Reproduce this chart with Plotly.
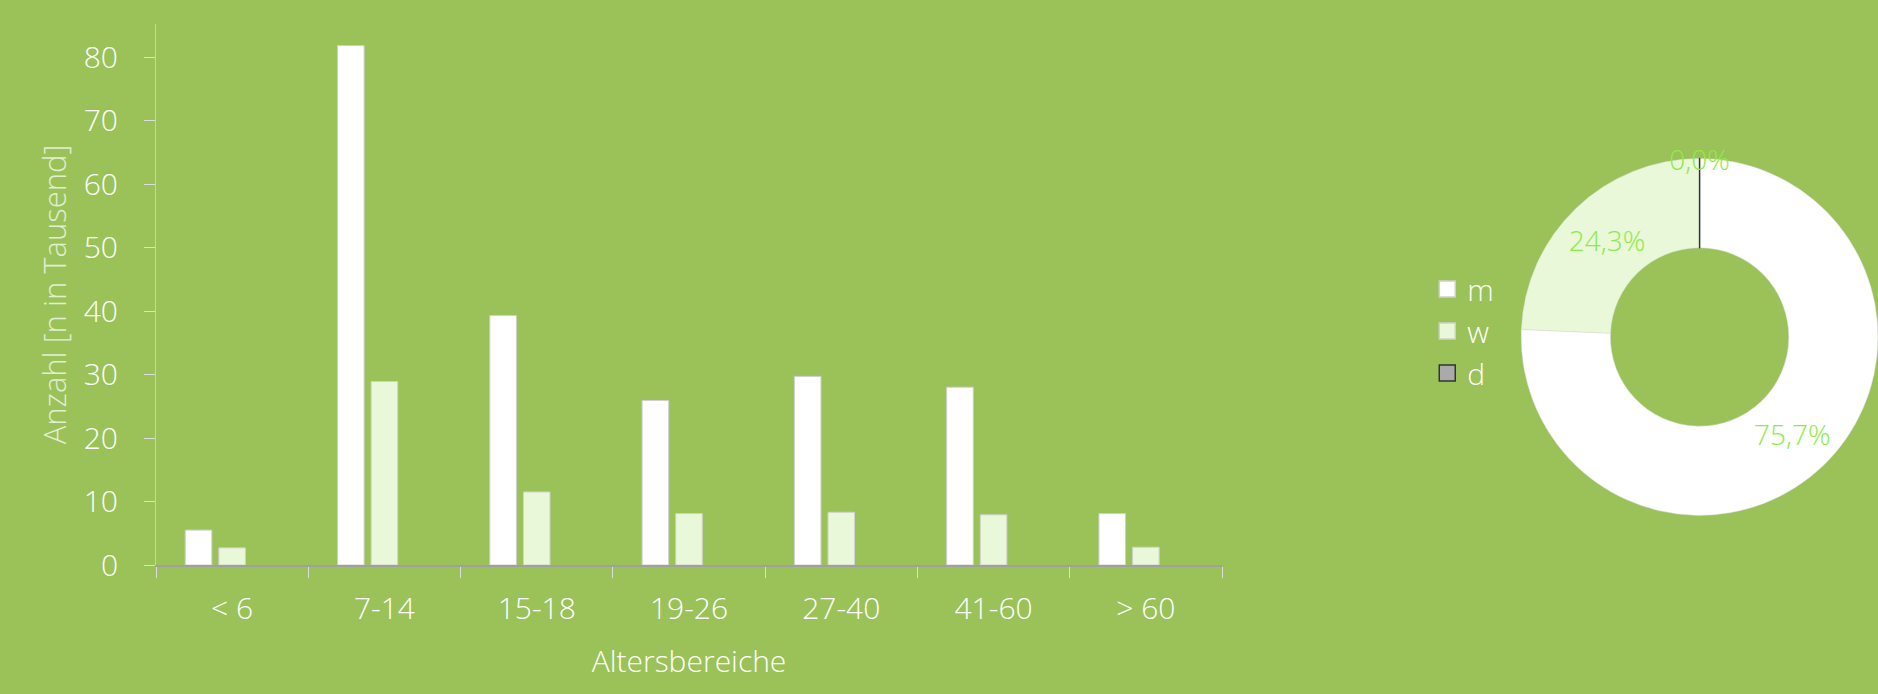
import plotly.graph_objects as go

# ---- data ----
categories = ["< 6", "7-14", "15-18", "19-26", "27-40", "41-60", "> 60"]
m_values = [5.5, 81.8, 39.3, 25.9, 29.7, 28.0, 8.1]
w_values = [2.7, 28.9, 11.5, 8.1, 8.3, 7.9, 2.8]
d_values = [0, 0, 0, 0, 0, 0, 0]
series_names = ["m", "w", "d"]
pie_values = [sum(m_values), sum(w_values), sum(d_values)]

# ---- styles ----
BG = "#9AC259"
COL_M = "#FFFFFF"
COL_W = "#E8F8D8"
COL_D = "#AAAAAA"
PCT = "#8FEA45"
FONT = "Open Sans"
series_colors = [COL_M, COL_W, COL_D]
legend_lines = ["#cfcfcf", "#cfcfcf", "#333333"]

fig = go.Figure()

for name, vals, col in zip(series_names, [m_values, w_values, d_values], series_colors):
    fig.add_trace(go.Bar(
        x=categories, y=vals, name=name, showlegend=False,
        marker=dict(color=col, line=dict(color="#d0d0d0", width=1 if name != "d" else 0)),
    ))

fig.add_trace(go.Pie(
    labels=series_names, values=pie_values,
    hole=0.5, sort=False, direction="clockwise", rotation=0,
    domain=dict(x=[0.81, 1.0], y=[0.085, 0.758]),
    marker=dict(colors=series_colors,
                line=dict(color=["#dddddd", "#dddddd", "#333333"], width=[0.5, 0.5, 1.5])),
    texttemplate="%{percent:.1%}", textposition="inside",
    insidetextorientation="horizontal",
    textfont=dict(color=PCT, size=28, family=FONT, weight=300),
    showlegend=False,
))

# legend entries (square swatches)
for name, col, lc in zip(series_names, series_colors, legend_lines):
    fig.add_trace(go.Scatter(
        x=[None], y=[None], mode="markers", name=name, showlegend=True,
        marker=dict(symbol="square", size=20, color=col, line=dict(color=lc, width=1.5)),
        hoverinfo="skip",
    ))

fig.update_layout(
    width=1878, height=694, autosize=False,
    paper_bgcolor=BG, plot_bgcolor=BG,
    margin=dict(l=0, r=0, t=24, b=129),
    separators=",.",
    font=dict(family=FONT, size=30, color="white", weight=300),
    barmode="group", bargap=0.338, bargroupgap=0.21,
    uniformtext=dict(minsize=28, mode="show"),
    legend=dict(x=0.760, xanchor="left", y=0.4325, yanchor="middle",
                font=dict(size=30, color="white", family=FONT, weight=300),
                bgcolor="rgba(0,0,0,0)", tracegroupgap=0, itemsizing="trace"),
    xaxis=dict(
        domain=[156 / 1878, 1222 / 1878],
        tickson="boundaries", ticks="outside", ticklen=11, tickcolor="#dddddd", tickwidth=1,
        showline=True, linecolor="#a0a0a0", linewidth=2, showgrid=False,
        tickfont=dict(size=30, color="white"), ticklabelstandoff=16,
        title=dict(text="Altersbereiche", font=dict(size=30, color="white"), standoff=24),
    ),
    yaxis=dict(
        range=[0, 85.2], dtick=10, ticks="outside", ticklen=11, tickcolor="#dddddd", tickwidth=1,
        showline=True, linecolor="#cccccc", linewidth=1, showgrid=False, zeroline=False,
        tickfont=dict(size=30, color="white"), ticklabelstandoff=20,
        title=dict(text="Anzahl [n in Tausend]", font=dict(size=31, color="rgba(255,255,255,0.72)"), standoff=7),
    ),
)

fig.write_html(
    "out.html",
    config={"displayModeBar": False},
    post_script="document.body.style.margin='0';document.body.style.padding='0';"
                "document.documentElement.style.background='" + BG + "';"
                "document.body.style.background='" + BG + "';",
)
